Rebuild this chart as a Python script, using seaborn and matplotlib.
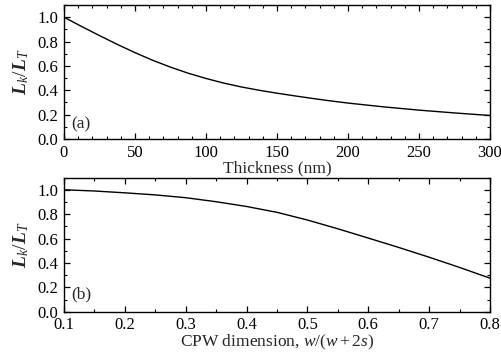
import matplotlib
matplotlib.use("Agg")
import matplotlib.pyplot as plt
import seaborn as sns
import pandas as pd
from matplotlib.ticker import MultipleLocator, FormatStrFormatter

# Panel (a): Lk/LT vs thickness
thickness_nm = [0, 12.5, 25, 37.5, 50, 62.5, 75, 87.5, 100, 112.5, 125, 137.5, 150,
                162.5, 175, 187.5, 200, 225, 250, 275, 300]
ratio_a = [1.0, 0.923, 0.849, 0.777, 0.709, 0.646, 0.590, 0.540, 0.497, 0.459, 0.427,
           0.400, 0.376, 0.354, 0.333, 0.313, 0.295, 0.264, 0.237, 0.214, 0.193]

# Panel (b): Lk/LT vs CPW dimension
cpw_dim = [0.1, 0.15, 0.2, 0.25, 0.3, 0.35, 0.4, 0.45, 0.5, 0.55, 0.6, 0.65, 0.7, 0.75, 0.8]
ratio_b = [1.0, 0.99, 0.975, 0.958, 0.935, 0.902, 0.863, 0.815, 0.752, 0.68, 0.604,
           0.527, 0.447, 0.363, 0.275]

sns.set_theme(style="ticks")
plt.rcParams["font.family"] = ["Liberation Serif", "DejaVu Serif"]
plt.rcParams["mathtext.fontset"] = "custom"
plt.rcParams["mathtext.rm"] = "Liberation Serif"
plt.rcParams["mathtext.it"] = "Liberation Serif:italic"
plt.rcParams["mathtext.bf"] = "Liberation Serif:bold:italic"

fig = plt.figure(figsize=(5.01, 3.52), dpi=100)
ax1 = fig.add_axes([0.1277, 0.6051, 0.8503, 0.3807])
ax2 = fig.add_axes([0.1277, 0.1145, 0.8503, 0.3810])

df_a = pd.DataFrame({"x": thickness_nm, "y": ratio_a})
df_b = pd.DataFrame({"x": cpw_dim, "y": ratio_b})

sns.lineplot(data=df_a, x="x", y="y", ax=ax1, color="black", linewidth=1.0)
sns.lineplot(data=df_b, x="x", y="y", ax=ax2, color="black", linewidth=1.0)

ylab = r"$\mathbf{L}_k/\mathbf{L}_T$"
for ax in (ax1, ax2):
    ax.set_ylim(0, 1.1)
    ax.yaxis.set_major_locator(MultipleLocator(0.2))
    ax.yaxis.set_minor_locator(MultipleLocator(0.1))
    ax.yaxis.set_major_formatter(FormatStrFormatter("%.1f"))
    ax.tick_params(which="both", direction="in", top=True, right=True,
                   labelsize=12, color="black", labelcolor="black")
    ax.tick_params(axis="y", pad=4)
    ax.tick_params(axis="x", pad=4)
    ax.tick_params(which="major", length=4, width=0.9)
    ax.tick_params(which="minor", length=2.2, width=0.8)
    for s in ax.spines.values():
        s.set_color("black")
        s.set_linewidth(1.0)
    ax.set_ylabel(ylab, fontsize=14, labelpad=5)

ax1.set_xlim(0, 300)
ax1.xaxis.set_major_locator(MultipleLocator(50))
ax1.xaxis.set_minor_locator(MultipleLocator(10))
ax1.set_xlabel("Thickness (nm)", fontsize=12.5, labelpad=0)

ax2.set_xlim(0.1, 0.8)
ax2.xaxis.set_major_locator(MultipleLocator(0.1))
ax2.xaxis.set_minor_locator(MultipleLocator(0.05))
ax2.xaxis.set_major_formatter(FormatStrFormatter("%.1f"))
ax2.set_xlabel(r"CPW dimension, $w/(w+2s)$", fontsize=12.5, labelpad=0)

ax1.text(0.018, 0.11, "(a)", transform=ax1.transAxes, fontsize=12.5, va="center", ha="left")
ax2.text(0.018, 0.13, "(b)", transform=ax2.transAxes, fontsize=12.5, va="center", ha="left")

fig.savefig("out.png", dpi=100)
